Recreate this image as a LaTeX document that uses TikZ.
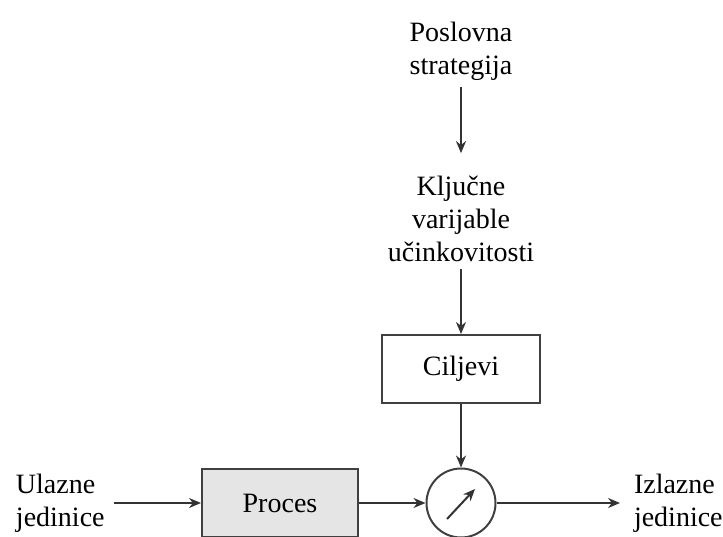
\documentclass[tikz,border=0pt]{standalone}
\usepackage{fontspec}
\setmainfont{Liberation Serif}
\usetikzlibrary{arrows.meta}
\begin{document}
\begin{tikzpicture}[x=1pt,y=-1pt,
  line width=2pt,
  txt/.style={font=\fontsize{28}{33}\selectfont, align=center, inner sep=0pt, text=black},
  boxnode/.style={draw=black!75, font=\fontsize{28}{33}\selectfont, minimum width=158pt, minimum height=68pt, inner sep=0pt},
  conn/.style={draw=black!80, -{Stealth[length=12pt,width=10pt]}},
]
\useasboundingbox (0,0) rectangle (723,537);
\node[txt] (strat) at (461,51) {Poslovna\\strategija};
\node[txt] (kvu) at (461,219) {Ključne\\varijable\\učinkovitosti};
\node[boxnode] (cilj) at (461,369) {Ciljevi};
\node[boxnode, fill=black!10, minimum width=156pt] (proc) at (280,503) {Proces};
\node[draw=black!75, circle, minimum size=69pt, inner sep=0pt] (meter) at (461,503) {};
\node[txt, align=left, anchor=west] (ul) at (15,503) {Ulazne\\jedinice};
\node[txt, align=left, anchor=west] (iz) at (633,503) {Izlazne\\jedinice};

\draw[conn] ([yshift=-6pt]strat.south) -- ([yshift=22pt]kvu.north);
\draw[conn] ([yshift=-6pt]kvu.south) -- (cilj.north);
\draw[conn] (cilj.south) -- (meter.north);
\draw[conn] ([xshift=8pt]ul.east) -- (proc.west);
\draw[conn] (proc.east) -- (meter.west);
\draw[conn] (meter.east) -- ([xshift=-13pt]iz.west);
\draw[conn] ([shift={(-14,16)}]meter.center) -- ([shift={(14,-14)}]meter.center);
\end{tikzpicture}
\end{document}
